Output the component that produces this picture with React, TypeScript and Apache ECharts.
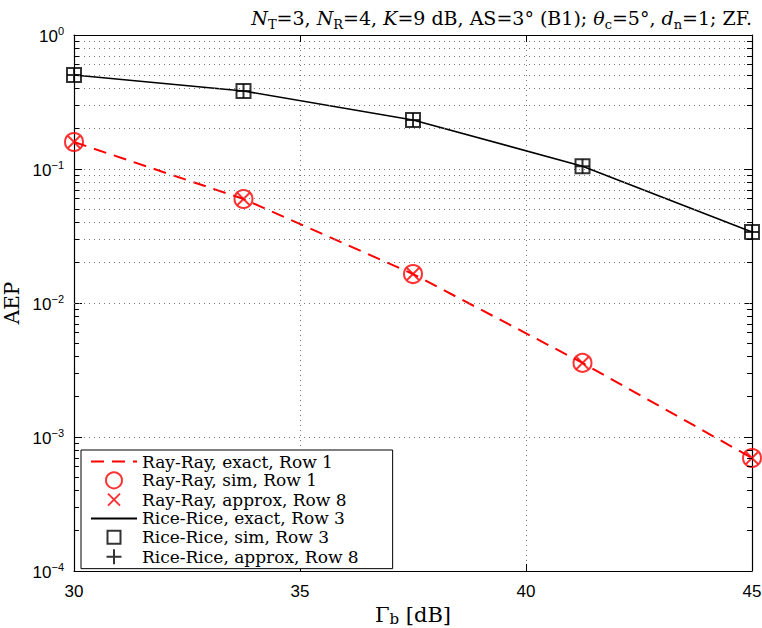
import React, { useEffect, useRef } from "react";
import * as echarts from "echarts";

// ---- data ----
const gammaB = [30, 33.75, 37.5, 41.25, 45];
const rayRayExact = [0.159, 0.0597, 0.01645, 0.00357, 0.000697];
const rayRaySim = [0.159, 0.0597, 0.01645, 0.00357, 0.000697];
const rayRayApprox = [0.159, 0.0597, 0.01645, 0.00357, 0.000697];
const riceRiceExact = [0.503, 0.382, 0.232, 0.105, 0.0339];
const riceRiceSim = [0.503, 0.382, 0.232, 0.105, 0.0339];
const riceRiceApprox = [0.503, 0.382, 0.232, 0.105, 0.0339];

const seriesNames = [
  "Ray-Ray, exact, Row 1",
  "Ray-Ray, sim, Row 1",
  "Ray-Ray, approx, Row 8",
  "Rice-Rice, exact, Row 3",
  "Rice-Rice, sim, Row 3",
  "Rice-Rice, approx, Row 8",
];

const xMin = 30;
const xMax = 45;
const xInterval = 5;
const yMin = 1e-4;
const yMax = 1;
const decadeStarts = [1e-4, 1e-3, 1e-2, 1e-1];
const minorMantissas = [2, 3, 4, 5, 6, 7, 8, 9];

const SERIF = "'DejaVu Serif', 'Liberation Serif', serif";
const SANS = "'Liberation Sans', Arial, sans-serif";

const zip = (xs: number[], ys: number[]) => xs.map((x, i) => [x, ys[i]]);

export default function App() {
  const ref = useRef<HTMLDivElement>(null);

  useEffect(() => {
    if (!ref.current) return;
    const chart = echarts.init(ref.current, null, { renderer: "svg" });

    const minorVals: number[] = [];
    decadeStarts.forEach((d) => minorMantissas.forEach((m) => minorVals.push(m * d)));

    const dotted = { color: "#777", width: 1, type: [1, 4] as number[] };

    const tickLen = 0.11; // in x units (~5px)
    const minorGrid = minorVals.map((v) => ({ yAxis: v }));
    const minorTicksLeft = minorVals.map((v) => [
      { coord: [xMin, v] },
      { coord: [xMin + tickLen, v] },
    ]);
    const minorTicksRight = minorVals.map((v) => [
      { coord: [xMax - tickLen, v] },
      { coord: [xMax, v] },
    ]);

    const supFmt = (v: number) => {
      const e = Math.round(Math.log10(v));
      return `{b|10}{s|${e < 0 ? "\u2212" + -e : e}}`;
    };

    const redMarkerStyle = { color: "rgba(0,0,0,0)", borderColor: "#ff0000", borderWidth: 2 };
    const blackMarkerStyle = { color: "rgba(0,0,0,0)", borderColor: "#000000", borderWidth: 2 };
    const hiddenSymbol = { color: "rgba(0,0,0,0)", borderColor: "rgba(0,0,0,0)", borderWidth: 0 };

    const txt = { fontFamily: SERIF, color: "#000", fontWeight: "normal" as const };

    const option: any = {
      animation: false,
      backgroundColor: "#ffffff",
      title: {
        text:
          "{i|N}{sub|T}{r|=3, }{i|N}{sub|R}{r|=4, }{i|K}{r|=9 dB, AS=3° (B1); }{i|θ}{sub|c}{r|=5°, }{i|d}{sub|n}{r|=1; ZF.}",
        right: 5,
        top: 0,
        textStyle: {
          fontWeight: "normal",
          rich: {
            r: { ...txt, fontSize: 19, lineHeight: 26, verticalAlign: "middle" },
            i: { ...txt, fontSize: 19, fontStyle: "italic", lineHeight: 26, verticalAlign: "middle" },
            sub: { ...txt, fontSize: 13, lineHeight: 11, verticalAlign: "bottom" },
          },
        },
      },
      grid: {
        left: 74,
        right: 10,
        top: 35,
        bottom: 57,
        containLabel: false,
        outerBoundsMode: "none",
      },
      legend: {
        orient: "vertical",
        left: 81,
        top: 450,
        data: [
          { name: seriesNames[0], itemStyle: hiddenSymbol },
          { name: seriesNames[1] },
          { name: seriesNames[2], icon: "path://M-2,-2M0,0L12,12M12,0L0,12M14,14" },
          { name: seriesNames[3], itemStyle: hiddenSymbol },
          { name: seriesNames[4], icon: "path://M-1.5,-1.5M0,0L13,0L13,13L0,13ZM14.5,14.5" },
          { name: seriesNames[5], icon: "path://M0,0M0.5,8L15.5,8M8,0.5L8,15.5M16,16" },
        ],
        symbolKeepAspect: true,
        itemWidth: 46,
        itemHeight: 16,
        itemGap: 1.33,
        padding: [3, 34, 3, 9],
        backgroundColor: "#ffffff",
        borderColor: "#000000",
        borderWidth: 1,
        borderRadius: 0,
        selectedMode: false,
        textStyle: { fontFamily: SERIF, fontSize: 17, color: "#000" },
        z: 10,
      },
      xAxis: [
        {
          type: "value",
          min: xMin,
          max: xMax,
          interval: xInterval,
          position: "bottom",
          name: "{g|Γ}{sub|b}{g| [dB]}",
          nameLocation: "middle",
          nameGap: 19,
          nameTextStyle: {
            rich: {
              g: { ...txt, fontSize: 21, lineHeight: 22, verticalAlign: "middle" },
              sub: { ...txt, fontSize: 15, lineHeight: 12, verticalAlign: "bottom" },
            },
          },
          axisLine: { show: true, onZero: false, lineStyle: { color: "#000", width: 1.2 } },
          axisTick: { show: true, inside: true, length: 7, lineStyle: { color: "#000" } },
          axisLabel: { show: true, margin: 12, fontFamily: SANS, fontSize: 17, color: "#000" },
          splitLine: { show: true, lineStyle: dotted },
        },
        {
          type: "value",
          min: xMin,
          max: xMax,
          interval: xInterval,
          position: "top",
          axisLine: { show: true, onZero: false, lineStyle: { color: "#000", width: 1.2 } },
          axisTick: { show: true, inside: true, length: 7, lineStyle: { color: "#000" } },
          axisLabel: { show: false },
          splitLine: { show: false },
        },
      ],
      yAxis: [
        {
          type: "log",
          logBase: 10,
          min: yMin,
          max: yMax,
          position: "left",
          name: "AEP",
          nameLocation: "middle",
          nameGap: 36,
          nameTextStyle: { ...txt, fontSize: 20 },
          axisLine: { show: true, onZero: false, lineStyle: { color: "#000", width: 1.2 } },
          axisTick: { show: true, inside: true, length: 8, lineStyle: { color: "#000" } },
          axisLabel: {
            show: true,
            margin: 10,
            formatter: supFmt,
            rich: {
              b: { fontFamily: SANS, fontSize: 17, color: "#000", lineHeight: 20, verticalAlign: "bottom" },
              s: { fontFamily: SANS, fontSize: 11, color: "#000", lineHeight: 12, verticalAlign: "top" },
            },
          },
          splitLine: { show: true, lineStyle: dotted },
        },
        {
          type: "log",
          logBase: 10,
          min: yMin,
          max: yMax,
          position: "right",
          axisLine: { show: true, onZero: false, lineStyle: { color: "#000", width: 1.2 } },
          axisTick: { show: true, inside: true, length: 8, lineStyle: { color: "#000" } },
          axisLabel: { show: false },
          splitLine: { show: false },
        },
      ],
      series: [
        {
          name: "_grid",
          type: "line",
          data: [],
          silent: true,
          z: 1,
          markLine: {
            silent: true,
            symbol: ["none", "none"],
            label: { show: false },
            lineStyle: dotted,
            emphasis: { disabled: true },
            data: minorGrid,
          },
        },
        {
          name: "_ticks",
          type: "line",
          data: [],
          silent: true,
          z: 1,
          markLine: {
            silent: true,
            symbol: ["none", "none"],
            label: { show: false },
            lineStyle: { color: "#000", width: 1, type: "solid" },
            emphasis: { disabled: true },
            data: [...minorTicksLeft, ...minorTicksRight],
          },
        },
        {
          name: seriesNames[0],
          type: "line",
          data: zip(gammaB, rayRayExact),
          symbol: "none",
          z: 3,
          lineStyle: { color: "#ff0000", width: 2, type: [13, 8] },
          itemStyle: { color: "#ff0000" },
        },
        {
          name: seriesNames[1],
          type: "scatter",
          data: zip(gammaB, rayRaySim),
          symbol: "circle",
          symbolSize: 18,
          z: 4,
          itemStyle: redMarkerStyle,
        },
        {
          name: seriesNames[2],
          type: "scatter",
          data: zip(gammaB, rayRayApprox),
          symbol: "path://M0,0L10,10M10,0L0,10",
          symbolSize: 12,
          z: 4,
          itemStyle: redMarkerStyle,
        },
        {
          name: seriesNames[3],
          type: "line",
          data: zip(gammaB, riceRiceExact),
          symbol: "none",
          z: 3,
          lineStyle: { color: "#000000", width: 1.6, type: "solid" },
          itemStyle: { color: "#000000" },
        },
        {
          name: seriesNames[4],
          type: "scatter",
          data: zip(gammaB, riceRiceSim),
          symbol: "rect",
          symbolSize: 14,
          z: 4,
          itemStyle: blackMarkerStyle,
        },
        {
          name: seriesNames[5],
          type: "scatter",
          data: zip(gammaB, riceRiceApprox),
          symbol: "path://M5,0L5,10M0,5L10,5",
          symbolSize: 14,
          z: 4,
          itemStyle: blackMarkerStyle,
        },
      ],
    };

    chart.setOption(option);
    return () => chart.dispose();
  }, []);

  return (
    <div
      ref={ref}
      style={{ position: "fixed", left: 0, top: 0, width: 762, height: 628, background: "#fff" }}
    />
  );
}
